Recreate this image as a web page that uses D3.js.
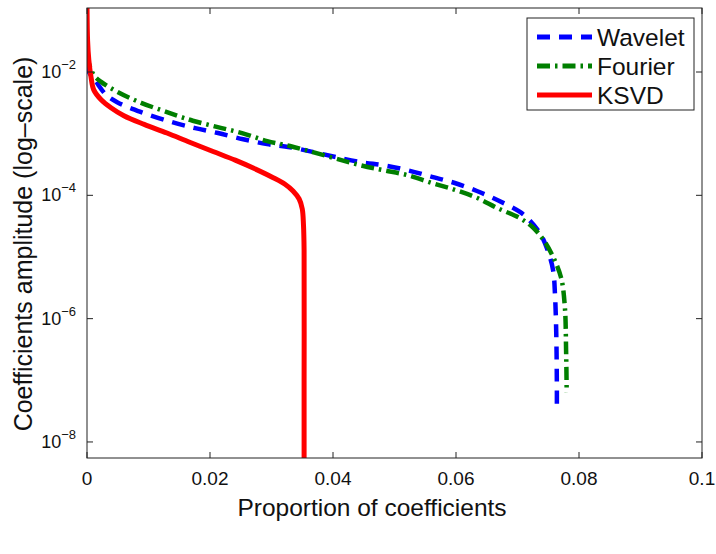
<!DOCTYPE html>
<html>
<head>
<meta charset="utf-8">
<script src="https://cdn.jsdelivr.net/npm/d3@7"></script>
<style>
  html, body { margin: 0; padding: 0; background: #fff; }
  svg text { font-family: "Liberation Sans", Arial, Helvetica, sans-serif; fill: #111; }
</style>
</head>
<body>
<svg id="chart" width="716" height="554"></svg>
<script>
// ---------- data ----------
const seriesNames = ["Wavelet", "Fourier", "KSVD"];
const seriesColors = ["#0000ff", "#007f00", "#ff0000"];

// proportion of coefficients (x) and log10 amplitude (y)
const waveletX = [0, 0.00016, 0.0015, 0.0031, 0.0049, 0.0088, 0.0137, 0.0176, 0.0213, 0.0254, 0.0293, 0.033, 0.0444, 0.0481, 0.052, 0.0561, 0.0598, 0.0634, 0.0668, 0.0704, 0.072, 0.0738, 0.075, 0.0758, 0.0761, 0.0763, 0.0764, 0.0764];
const waveletLog = [-1.85, -1.97, -2.16, -2.37, -2.49, -2.65, -2.81, -2.91, -2.99, -3.09, -3.17, -3.22, -3.46, -3.51, -3.59, -3.70, -3.80, -3.93, -4.08, -4.27, -4.41, -4.64, -4.92, -5.22, -5.62, -6.23, -7.11, -7.43];

const fourierX = [0, 0.00016, 0.0011, 0.0023, 0.0049, 0.0088, 0.013, 0.0153, 0.0172, 0.0211, 0.0252, 0.0293, 0.033, 0.0444, 0.0481, 0.052, 0.0561, 0.0598, 0.0634, 0.0668, 0.0704, 0.0724, 0.0742, 0.0758, 0.0771, 0.0777, 0.0779, 0.078];
const fourierLog = [-1.72, -1.81, -2.05, -2.16, -2.32, -2.50, -2.65, -2.73, -2.79, -2.89, -2.99, -3.12, -3.20, -3.51, -3.59, -3.67, -3.80, -3.91, -4.04, -4.21, -4.37, -4.51, -4.72, -5.00, -5.34, -5.81, -6.51, -7.20];

const ksvdX = [0, 0.0001, 0.0003, 0.00065, 0.0011, 0.0023, 0.0039, 0.006, 0.0093, 0.013, 0.0167, 0.0205, 0.0241, 0.0273, 0.0302, 0.0322, 0.0335, 0.0345, 0.035, 0.0352, 0.0353, 0.0353, 0.0353];
const ksvdLog = [-0.9, -1.5, -1.81, -2.08, -2.29, -2.45, -2.58, -2.71, -2.85, -2.99, -3.14, -3.29, -3.43, -3.57, -3.71, -3.82, -3.93, -4.06, -4.22, -4.48, -4.89, -7.0, -9.0];

const xTicks = [0, 0.02, 0.04, 0.06, 0.08, 0.1];
const xTickLabels = ["0", "0.02", "0.04", "0.06", "0.08", "0.1"];
const yTickExps = [-2, -4, -6, -8];

const xTitle = "Proportion of coefficients";
const yTitle = "Coefficients amplitude (log\u2013scale)";

// ---------- layout ----------
const svg = d3.select("#chart");
const L = 87, R = 702, T = 8, B = 458;

const x = d3.scaleLinear().domain([0, 0.1]).range([L, R]);
const y = d3.scaleLog().domain([Math.pow(10, -8.26), Math.pow(10, -0.962)]).range([B, T]);

svg.append("defs").append("clipPath").attr("id", "plotclip")
  .append("rect").attr("x", L).attr("y", T).attr("width", R - L).attr("height", B - T);

// ---------- lines ----------
const series = [
  { xs: waveletX, ls: waveletLog, dash: "13,9" },
  { xs: fourierX, ls: fourierLog, dash: "13,5,2.5,5" },
  { xs: ksvdX, ls: ksvdLog, dash: null }
];

const line = d3.line()
  .x(d => x(d[0]))
  .y(d => y(Math.pow(10, d[1])))
  .curve(d3.curveCatmullRom.alpha(0.5));

const gLines = svg.append("g").attr("clip-path", "url(#plotclip)");
series.forEach((s, i) => {
  const pts = s.xs.map((v, k) => [v, s.ls[k]]);
  gLines.append("path")
    .attr("d", line(pts))
    .attr("fill", "none")
    .attr("stroke", seriesColors[i])
    .attr("stroke-width", i === 2 ? 5 : 4.5)
    .attr("stroke-dasharray", s.dash)
    .attr("stroke-linejoin", "round");
});

// ---------- axes box ----------
svg.append("rect").attr("x", L).attr("y", T).attr("width", R - L).attr("height", B - T)
  .attr("fill", "none").attr("stroke", "#222").attr("stroke-width", 1);

const tickLen = 6;
const gTicks = svg.append("g").attr("stroke", "#222").attr("stroke-width", 1);
xTicks.forEach(t => {
  const px = x(t);
  gTicks.append("line").attr("x1", px).attr("x2", px).attr("y1", B).attr("y2", B - tickLen);
  gTicks.append("line").attr("x1", px).attr("x2", px).attr("y1", T).attr("y2", T + tickLen);
});
yTickExps.forEach(e => {
  const py = y(Math.pow(10, e));
  gTicks.append("line").attr("x1", L).attr("x2", L + tickLen).attr("y1", py).attr("y2", py);
  gTicks.append("line").attr("x1", R).attr("x2", R - tickLen).attr("y1", py).attr("y2", py);
});

// x tick labels
svg.append("g").selectAll("text").data(xTicks).join("text")
  .attr("x", d => x(d)).attr("y", 485)
  .attr("text-anchor", "middle")
  .style("font-size", "19px")
  .text((d, i) => xTickLabels[i]);

// y tick labels
yTickExps.forEach(e => {
  const py = y(Math.pow(10, e));
  const t = svg.append("text").attr("x", 76).attr("y", py + 6)
    .attr("text-anchor", "end").style("font-size", "18px");
  t.append("tspan").text("10");
  t.append("tspan").attr("dy", -9).style("font-size", "13px").text("\u2212" + Math.abs(e));
});

// axis titles
svg.append("text").attr("x", 372).attr("y", 516)
  .attr("text-anchor", "middle").style("font-size", "24.5px").text(xTitle);

svg.append("text")
  .attr("transform", `translate(32, ${244}) rotate(-90)`)
  .attr("text-anchor", "middle").style("font-size", "25px").text(yTitle);

// ---------- legend ----------
const lg = svg.append("g");
lg.append("rect").attr("x", 527).attr("y", 18).attr("width", 167).attr("height", 92)
  .attr("fill", "#fff").attr("stroke", "#222").attr("stroke-width", 1);
const rowY = [37, 66, 95];
seriesNames.forEach((n, i) => {
  lg.append("line").attr("x1", 537).attr("x2", 592).attr("y1", rowY[i]).attr("y2", rowY[i])
    .attr("stroke", seriesColors[i]).attr("stroke-width", 5)
    .attr("stroke-dasharray", series[i].dash);
  lg.append("text").attr("x", 597).attr("y", rowY[i] + 8.5)
    .style("font-size", "24.5px").text(n);
});
</script>
</body>
</html>
